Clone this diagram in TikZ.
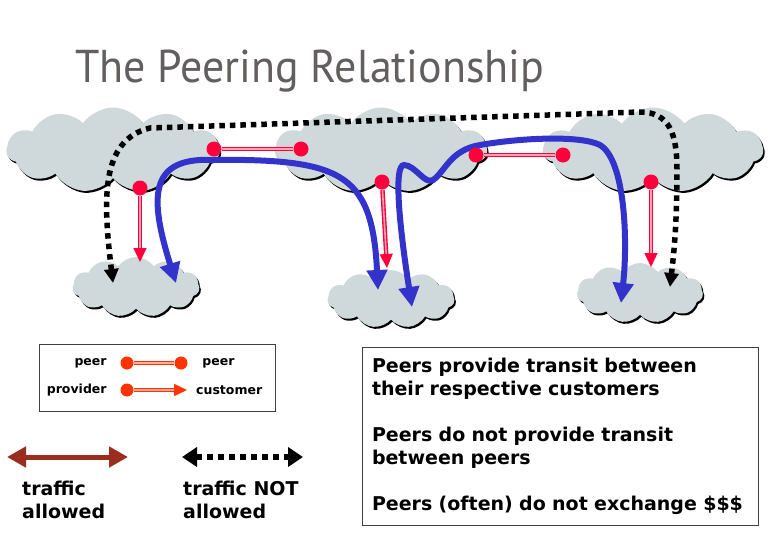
\documentclass[tikz,border=0pt]{standalone}
\usepackage{fontspec}
\usepackage{tikz}
\usetikzlibrary{shapes.symbols, shadows, arrows.meta, positioning}
\newfontfamily\titlefont{PT Sans}
\newfontfamily\labelfont{DejaVu Sans}

\definecolor{cloudgrey}{RGB}{207,216,218}
\definecolor{linkred}{RGB}{255,0,60}
\definecolor{linkpink}{RGB}{255,160,180}
\definecolor{flowblue}{RGB}{51,51,204}
\definecolor{legendred}{RGB}{255,51,0}
\definecolor{allowbrown}{RGB}{155,45,30}
\definecolor{titlegrey}{RGB}{100,95,95}

\tikzstyle{as} = [cloud, cloud puffs=11, cloud puff arc=110, aspect=2.5, inner sep=0, fill=cloudgrey, drop shadow={shadow xshift=1.5pt, shadow yshift=-2pt, fill=black, opacity=1}]
\tikzstyle{dot} = [circle, fill=linkred, minimum size=15pt, inner sep=0]
\tikzstyle{ldot} = [circle, fill=legendred, minimum size=13pt, inner sep=0]
\tikzstyle{peerlink} = [draw=linkred, double=linkpink, double distance=1.6pt, line width=1.4pt]
\tikzstyle{provlink} = [peerlink, -{Triangle[length=14pt, width=13pt, fill=linkred]}]
\tikzstyle{lpeer} = [draw=legendred, double=legendred!40, double distance=1.4pt, line width=1.3pt]
\tikzstyle{lprov} = [lpeer, -{Triangle[length=13pt, width=12pt, fill=legendred]}]
\tikzstyle{flow} = [draw=flowblue, line width=6pt, {Triangle[length=20pt, width=20pt]}-{Triangle[length=20pt, width=20pt]}]
\tikzstyle{blocked} = [draw=black, line width=5.5pt, dash pattern=on 5.5pt off 5pt, {Triangle[length=14pt, width=14pt]}-{Triangle[length=14pt, width=14pt]}]
\tikzstyle{blockedkey} = [draw=black, line width=5.5pt, dash pattern=on 6pt off 5pt, {Triangle[length=15pt, width=19pt]}-{Triangle[length=15pt, width=19pt]}]
\tikzstyle{allowed} = [draw=allowbrown, line width=5pt, {Triangle[length=19pt, width=20pt]}-{Triangle[length=19pt, width=20pt]}]
\tikzstyle{key} = [font=\labelfont\bfseries\fontsize{12.5}{14}\selectfont, inner sep=0]
\tikzstyle{note} = [font=\labelfont\bfseries\fontsize{19}{23}\selectfont, inner sep=0, align=left]

\begin{document}
\begin{tikzpicture}[x=1pt, y=1pt, node distance=3cm]
\useasboundingbox (0,0) rectangle (771,-536);

\node [anchor=base west, inner sep=0, text=titlegrey, font=\titlefont\fontsize{46}{50}\selectfont] (title) at (75,-82) {\scalebox{0.955}[1]{The Peering Relationship}};

% the three peers and their customers
\node [as, minimum width=213pt, minimum height=85pt] (A) at (113,-150) {};
\node [as, minimum width=212pt, minimum height=85pt] (B) at (381,-150) {};
\node [as, minimum width=220pt, minimum height=85pt] (C) at (653,-150) {};
\node [as, minimum width=127pt, minimum height=60pt] (cA) at (136,-287) {};
\node [as, minimum width=127pt, minimum height=58pt] (cB) at (391,-299) {};
\node [as, minimum width=126pt, minimum height=60pt] (cC) at (640,-293) {};

% traffic not allowed
\coordinate (n1) at (113,-283);
\coordinate (n2) at (670,-287);
\path [blocked] (n1) .. controls (103,-200) and (100,-140) .. (150,-128) -- (640,-112) .. controls (670,-112) and (677,-135) .. (677,-170) .. controls (677,-230) and (673,-260) .. (n2);

% traffic allowed
\coordinate (f1a) at (176,-283);
\coordinate (f1b) at (378,-290);
\coordinate (f2a) at (412,-307);
\coordinate (f2b) at (621,-303);
\path [flow] (f1a) .. controls (150,-200) and (150,-163) .. (200,-160) .. controls (340,-158) and (372,-170) .. (f1b);
\path [flow] (f2a) .. controls (400,-230) and (393,-165) .. (404,-165) .. controls (415,-165) and (425,-185) .. (433,-180) .. controls (445,-172) and (450,-150) .. (480,-145) .. controls (520,-138) and (580,-135) .. (600,-145) .. controls (625,-160) and (628,-240) .. (f2b);

% peer links
\node [dot] (p1) at (214,-149) {};
\node [dot] (p2) at (301,-149) {};
\node [dot] (p3) at (476,-155) {};
\node [dot] (p4) at (563,-155) {};
\path [peerlink] (p1) -- (p2);
\path [peerlink] (p3) -- (p4);

% provider links
\node [dot] (pr1) at (140,-188) {};
\node [dot] (pr2) at (382,-182) {};
\node [dot] (pr3) at (651,-182) {};
\coordinate (c1) at (140,-262);
\coordinate (c2) at (387,-268);
\coordinate (c3) at (651,-267);
\path [provlink] (pr1) -- (c1);
\path [provlink] (pr2) -- (c2);
\path [provlink] (pr3) -- (c3);

% legend
\node [draw=black!75, line width=0.8pt, minimum width=236pt, minimum height=67pt, inner sep=0] (legend) at (157,-377.5) {};
\node [ldot] (lp1) at (127,-363) {};
\node [ldot] (lp2) at (181,-363) {};
\node [ldot] (lpr) at (127,-390) {};
\coordinate (lcu) at (187,-390);
\path [lpeer] (lp1) -- (lp2);
\path [lprov] (lpr) -- (lcu);
\node [key, left=13.5pt of lp1] (k1) {peer};
\node [key, right=14.5pt of lp2] (k2) {peer};
\node [key, left=13.5pt of lpr] (k3) {provider};
\node [key, right=9pt of lcu] (k4) {customer};

\coordinate (al) at (7,-457);
\coordinate (ar) at (128,-457);
\path [allowed] (al) -- (ar);
\node [note, anchor=north west] (t1) at (22,-481) {traffic\\allowed};

\coordinate (bl) at (182,-457);
\coordinate (br) at (303,-457);
\path [blockedkey] (bl) -- (br);
\node [note, anchor=north west] (t2) at (183,-481) {traffic NOT\\allowed};

% facts
\node [note, draw=black!75, line width=0.8pt, minimum width=396pt, minimum height=178pt, text width=376pt] (facts) at (560,-436) {Peers provide transit between\\their respective customers\\[23pt]Peers do not provide transit\\between peers\\[23pt]Peers (often) do not exchange \$\$\$};

\end{tikzpicture}
\end{document}
